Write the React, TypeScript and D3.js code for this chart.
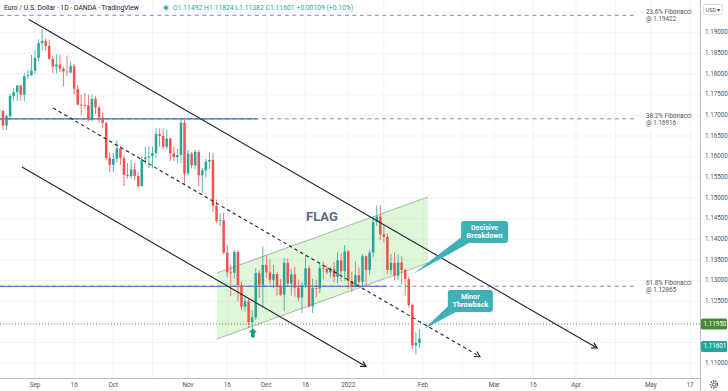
import React from 'react';
import * as d3 from 'd3';

// EUR/USD daily bars, OANDA, one per weekday starting Mon 16 Aug 2021
const opens = [
  1.1797, 1.1777, 1.1712, 1.1711, 1.1675, 1.1698, 1.1747, 1.1756, 1.1772, 1.1750,
  1.1795, 1.1797, 1.1808, 1.1839, 1.1875, 1.1880, 1.1868, 1.1837, 1.1818, 1.1823,
  1.1813, 1.1806, 1.1804, 1.1819, 1.1764, 1.1726, 1.1725, 1.1724, 1.1690, 1.1740,
  1.1719, 1.1695, 1.1682, 1.1597, 1.1580, 1.1595, 1.1620, 1.1597, 1.1556, 1.1553,
  1.1569, 1.1553, 1.1529, 1.1594, 1.1598, 1.1601, 1.1609, 1.1655, 1.1650, 1.1624,
  1.1644, 1.1608, 1.1599, 1.1604, 1.1682, 1.1559, 1.1607, 1.1579, 1.1611, 1.1555,
  1.1567, 1.1588, 1.1592, 1.1481, 1.1444, 1.1446, 1.1368, 1.1320, 1.1319, 1.1369,
  1.1289, 1.1237, 1.1250, 1.1200, 1.1211, 1.1318, 1.1290, 1.1338, 1.1320, 1.1302,
  1.1316, 1.1285, 1.1266, 1.1343, 1.1293, 1.1315, 1.1283, 1.1259, 1.1289, 1.1330,
  1.1238, 1.1282, 1.1281, 1.1331, 1.1329, 1.1320, 1.1328, 1.1309, 1.1349, 1.1323,
  1.1371, 1.1299, 1.1285, 1.1313, 1.1297, 1.1359, 1.1326, 1.1368, 1.1442, 1.1455,
  1.1412, 1.1406, 1.1326, 1.1343, 1.1312, 1.1344, 1.1326, 1.1304, 1.1241, 1.1143,
  1.11492,
];
const highs = [
  1.1803, 1.1781, 1.1727, 1.1712, 1.1702, 1.1752, 1.1766, 1.1773, 1.1775, 1.1802,
  1.1810, 1.1846, 1.1857, 1.1884, 1.1909, 1.1886, 1.1883, 1.1845, 1.1848, 1.1846,
  1.1818, 1.1845, 1.1831, 1.1824, 1.1773, 1.1750, 1.1754, 1.1750, 1.1750, 1.1746,
  1.1723, 1.1706, 1.1684, 1.1610, 1.1609, 1.1640, 1.1625, 1.1604, 1.1584, 1.1592,
  1.1585, 1.1563, 1.1600, 1.1624, 1.1624, 1.1624, 1.1669, 1.1668, 1.1668, 1.1665,
  1.1645, 1.1624, 1.1619, 1.1692, 1.1692, 1.1616, 1.1611, 1.1616, 1.1617, 1.1572,
  1.1595, 1.1610, 1.1609, 1.1496, 1.1464, 1.1465, 1.1386, 1.1339, 1.1374, 1.1374,
  1.1298, 1.1263, 1.1257, 1.1228, 1.1330, 1.1325, 1.1383, 1.1361, 1.1352, 1.1338,
  1.1321, 1.1304, 1.1355, 1.1354, 1.1329, 1.1333, 1.1303, 1.1297, 1.1361, 1.1337,
  1.1304, 1.1302, 1.1341, 1.1346, 1.1337, 1.1334, 1.1345, 1.1369, 1.1366, 1.1386,
  1.1375, 1.1322, 1.1346, 1.1332, 1.1364, 1.1361, 1.1375, 1.1455, 1.1482, 1.1483,
  1.1434, 1.1415, 1.1364, 1.1369, 1.1364, 1.1359, 1.1330, 1.1310, 1.1245, 1.1175,
  1.11824,
];
const lows = [
  1.1762, 1.1708, 1.1696, 1.1665, 1.1664, 1.1689, 1.1734, 1.1735, 1.1735, 1.1734,
  1.1788, 1.1795, 1.1800, 1.1831, 1.1857, 1.1856, 1.1833, 1.1802, 1.1801, 1.1805,
  1.1770, 1.1795, 1.1801, 1.1751, 1.1724, 1.1700, 1.1716, 1.1685, 1.1685, 1.1703,
  1.1681, 1.1670, 1.1592, 1.1563, 1.1563, 1.1586, 1.1580, 1.1529, 1.1547, 1.1547,
  1.1543, 1.1524, 1.1527, 1.1583, 1.1572, 1.1572, 1.1598, 1.1625, 1.1619, 1.1618,
  1.1590, 1.1589, 1.1585, 1.1584, 1.1535, 1.1555, 1.1571, 1.1569, 1.1529, 1.1513,
  1.1551, 1.1570, 1.1466, 1.1440, 1.1432, 1.1364, 1.1309, 1.1263, 1.1305, 1.1250,
  1.1228, 1.1226, 1.1186, 1.1185, 1.1205, 1.1258, 1.1235, 1.1306, 1.1292, 1.1282,
  1.1264, 1.1263, 1.1226, 1.1287, 1.1264, 1.1261, 1.1251, 1.1222, 1.1283, 1.1235,
  1.1222, 1.1259, 1.1270, 1.1303, 1.1315, 1.1308, 1.1297, 1.1294, 1.1298, 1.1300,
  1.1280, 1.1272, 1.1283, 1.1285, 1.1286, 1.1285, 1.1315, 1.1357, 1.1433, 1.1398,
  1.1393, 1.1316, 1.1315, 1.1300, 1.1301, 1.1291, 1.1264, 1.1235, 1.1135, 1.1121,
  1.11382,
];
const closes = [
  1.1777, 1.1712, 1.1711, 1.1675, 1.1698, 1.1747, 1.1756, 1.1772, 1.1750, 1.1795,
  1.1797, 1.1808, 1.1839, 1.1875, 1.1880, 1.1868, 1.1837, 1.1818, 1.1823, 1.1813,
  1.1806, 1.1804, 1.1819, 1.1764, 1.1726, 1.1725, 1.1724, 1.1690, 1.1740, 1.1719,
  1.1695, 1.1682, 1.1597, 1.1580, 1.1595, 1.1620, 1.1597, 1.1556, 1.1553, 1.1569,
  1.1553, 1.1529, 1.1594, 1.1598, 1.1601, 1.1609, 1.1655, 1.1650, 1.1624, 1.1644,
  1.1608, 1.1599, 1.1604, 1.1682, 1.1559, 1.1607, 1.1579, 1.1611, 1.1555, 1.1567,
  1.1588, 1.1592, 1.1481, 1.1444, 1.1446, 1.1368, 1.1320, 1.1319, 1.1369, 1.1289,
  1.1237, 1.1250, 1.1200, 1.1211, 1.1318, 1.1290, 1.1338, 1.1320, 1.1302, 1.1316,
  1.1285, 1.1266, 1.1343, 1.1293, 1.1315, 1.1283, 1.1259, 1.1289, 1.1330, 1.1238,
  1.1282, 1.1281, 1.1331, 1.1329, 1.1320, 1.1328, 1.1309, 1.1349, 1.1323, 1.1371,
  1.1299, 1.1285, 1.1313, 1.1297, 1.1359, 1.1326, 1.1368, 1.1442, 1.1455, 1.1412,
  1.1406, 1.1326, 1.1343, 1.1312, 1.1344, 1.1326, 1.1304, 1.1241, 1.1143, 1.11492,
  1.11601,
];

const priceTicks = [1.11, 1.115, 1.12, 1.125, 1.13, 1.135, 1.14, 1.145, 1.15, 1.155, 1.16, 1.165, 1.17, 1.175, 1.18, 1.185, 1.19];
const gridPrices = [...priceTicks, 1.195];

const timeTicks: [string, string][] = [
  ['2021-09-01', 'Sep'], ['2021-09-16', '16'], ['2021-10-01', 'Oct'], ['2021-10-18', ''],
  ['2021-11-01', 'Nov'], ['2021-11-16', '16'], ['2021-12-01', 'Dec'], ['2021-12-16', '16'],
  ['2022-01-03', '2022'], ['2022-01-17', ''], ['2022-02-01', 'Feb'], ['2022-02-16', ''],
  ['2022-03-01', 'Mar'], ['2022-03-16', '16'], ['2022-04-01', 'Apr'], ['2022-04-18', ''],
  ['2022-05-02', 'May'], ['2022-05-17', '17'],
];

// fibonacci levels (retracement drawn off-chart)
const fibLevels = [
  { name: '23.6% Fibonacci', price: 1.19422 },
  { name: '38.2% Fibonacci', price: 1.16916 },
  { name: '61.8% Fibonacci', price: 1.12865 },
];
const fibSpan = [0, 181]; // bar index range
// horizontal support/resistance rays: [price, lastBar]
const hLines: [number, number][] = [[1.16916, 74.4], [1.12865, 110.9]];
const keyLevel = 1.1195;

// drawing anchors: [barIndex, price]
const upperChannel: [number, number][] = [[10.3, 1.19319], [169.9, 1.1137]];
const lowerChannel: [number, number][] = [[8.35, 1.1575], [105.0, 1.10922]];
const midChannel: [number, number][] = [[17.06, 1.17178], [137.0, 1.1116]];
const flagUpper: [number, number][] = [[63.1, 1.13185], [122.4, 1.15024]];
const flagLower: [number, number][] = [[63.1, 1.11588], [122.4, 1.13427]];
const flagLabel: [number, number] = [92.6, 1.1452];
const arrowAt: [number, number] = [73.2, 1.11854];

const callouts = [
  { lines: ['Decisive', 'Breakdown'], box: [138.3, 1.14177] as [number, number], tip: [118.2, 1.13161] as [number, number], w: 47 },
  { lines: ['Minor', 'Throwback'], box: [134.3, 1.12507] as [number, number], tip: [121.3, 1.1183] as [number, number], w: 45 },
];

const W = 728;
const H = 391;
const plotR = 700;
const plotB = 378;
const green = '#26a69a';
const red = '#ef5350';
const font = "Roboto, 'Liberation Sans', Arial, sans-serif";

const start = new Date(2021, 7, 16);
const weekdays: number[] = [];
for (let d = new Date(start); weekdays.length < 240; d.setDate(d.getDate() + 1)) {
  if (d.getDay() !== 0 && d.getDay() !== 6) weekdays.push(d.getTime());
}
function barOf(s: string) {
  const [yy, mm, dd] = s.split('-').map(Number);
  return weekdays.indexOf(new Date(yy, mm - 1, dd).getTime());
}

function arrowHead(x1: number, y1: number, x2: number, y2: number, len = 6) {
  const a = Math.atan2(y2 - y1, x2 - x1);
  const p1 = [x2 - len * Math.cos(a - 0.5), y2 - len * Math.sin(a - 0.5)];
  const p2 = [x2 - len * Math.cos(a + 0.5), y2 - len * Math.sin(a + 0.5)];
  return `M${p1[0]},${p1[1]}L${x2},${y2}L${p2[0]},${p2[1]}`;
}

export default function App() {
  const x = d3.scaleLinear().domain([12, 121]).range([35, 423]);
  const y = d3.scaleLinear().domain([1.11, 1.19]).range([363.3, 32.7]);
  const bw = 2.5;

  const pt = (p: [number, number]) => [x(p[0]), y(p[1])];
  const line = d3.line<[number, number]>().x(d => x(d[0])).y(d => y(d[1]));

  const chLine = (pts: [number, number][], dashed = false) => {
    const [a, b] = pts.map(pt);
    return (
      <g>
        <path d={line(pts) || ''} stroke="#1e222d" strokeWidth={1.1} fill="none" strokeDasharray={dashed ? '3.5,3' : undefined} />
        <path d={arrowHead(a[0], a[1], b[0], b[1])} stroke="#1e222d" strokeWidth={1.1} fill="none" />
      </g>
    );
  };

  const flagPoly = [...flagUpper, ...[...flagLower].reverse()];
  const last = closes.length - 1;
  const lastY = y(closes[last]) + 8; // nudged below the key level tag, as on the chart
  const tagYs = [y(keyLevel), lastY];
  const [ax, ay] = pt(arrowAt);

  return (
    <svg width={W} height={H} style={{ position: 'absolute', left: 0, top: 0, background: '#fff' }} fontFamily={font}>
      <defs>
        <clipPath id="plot"><rect x={0} y={0} width={plotR} height={plotB} /></clipPath>
      </defs>
      <rect width={W} height={H} fill="#fff" />

      <g clipPath="url(#plot)">
        {/* grid */}
        {gridPrices.map(p => (
          <line key={p} x1={0} x2={plotR} y1={y(p)} y2={y(p)} stroke="#f0f3fa" strokeWidth={1} />
        ))}
        {timeTicks.map(([d]) => (
          <line key={d} x1={x(barOf(d))} x2={x(barOf(d))} y1={0} y2={plotB} stroke="#f0f3fa" strokeWidth={1} />
        ))}

        {/* flag channel */}
        <path d={(line(flagPoly) || '') + 'Z'} fill="rgba(150, 225, 130, 0.3)" stroke="none" />
        <path d={line(flagUpper) || ''} stroke="#9ab39a" strokeWidth={0.9} fill="none" />
        <path d={line(flagLower) || ''} stroke="#9ab39a" strokeWidth={0.9} fill="none" />

        {/* fib levels */}
        {fibLevels.map(f => (
          <line key={f.name} x1={x(fibSpan[0])} x2={x(fibSpan[1])} y1={y(f.price)} y2={y(f.price)}
            stroke="#7a84cc" strokeWidth={1} strokeDasharray="4,3.5" />
        ))}
        {hLines.map(([p, end]) => (
          <line key={p} x1={0} x2={x(end)} y1={y(p)} y2={y(p)} stroke="#4068c8" strokeWidth={1.2} />
        ))}
        <line x1={0} x2={plotR} y1={y(keyLevel)} y2={y(keyLevel)} stroke="#555" strokeWidth={0.8} strokeDasharray="1,2" />

        {/* candles */}
        {opens.map((o, i) => {
          const c = closes[i];
          const col = c >= o ? green : red;
          const top = y(Math.max(o, c));
          const bot = y(Math.min(o, c));
          return (
            <g key={i}>
              <line x1={x(i)} x2={x(i)} y1={y(highs[i])} y2={y(lows[i])} stroke={col} strokeWidth={0.8} />
              <rect x={x(i) - bw / 2} y={top} width={bw} height={Math.max(bot - top, 0.8)} fill={col} />
            </g>
          );
        })}

        {/* channel lines */}
        {chLine(upperChannel)}
        {chLine(lowerChannel)}
        {chLine(midChannel, true)}

        {/* FLAG label */}
        <text x={x(flagLabel[0])} y={y(flagLabel[1])} textAnchor="middle" dominantBaseline="middle"
          fontSize={13} fontWeight="bold" fill="#5f6b7b">FLAG</text>

        {/* up arrow */}
        <path d={`M${ax},${ay} l4,4.5 h-2.2 v5 h-3.6 v-5 h-2.2 Z`} fill="#1b9a80" />

        {/* callouts */}
        {callouts.map(c => {
          const [cx, cy] = pt(c.box);
          const [tx, ty] = pt(c.tip);
          const h = 22;
          const x0 = cx - c.w / 2;
          const y0 = cy - h / 2;
          return (
            <g key={c.lines[0]}>
              <path d={`M${tx},${ty}L${x0 + 0.5},${y0 + h - 6}L${x0 + 8},${y0 + h}Z`} fill="#3eb1b6" />
              <rect x={x0} y={y0} width={c.w} height={h} rx={3} fill="#3eb1b6" />
              {c.lines.map((t, j) => (
                <text key={t} x={cx} y={y0 + 9.2 + j * 7.6} textAnchor="middle" fontSize={7.2} fontWeight="bold" fill="#fff">{t}</text>
              ))}
            </g>
          );
        })}

        {/* fib labels */}
        {fibLevels.map(f => (
          <g key={f.name} fontSize={6.3} fill="#50535e">
            <text x={646} y={y(f.price) - 1.3}>{f.name}</text>
            <text x={646} y={y(f.price) + 5.7}>@ {f.price.toFixed(5)}</text>
          </g>
        ))}
      </g>

      {/* header */}
      <text x={4} y={10} fontSize={6.8} fill="#131722">Euro / U.S. Dollar · 1D · OANDA · TradingView</text>
      <circle cx={166} cy={7.8} r={3.2} fill="rgba(38,166,154,0.25)" />
      <circle cx={166} cy={7.8} r={1.8} fill={green} />
      <text x={173} y={10} fontSize={6.8} fill={green}>
        O{opens[last].toFixed(5)} H{highs[last].toFixed(5)} L{lows[last].toFixed(5)} C{closes[last].toFixed(5)} +{(closes[last] - closes[last - 1]).toFixed(5)} (+0.10%)
      </text>

      {/* axes */}
      <line x1={plotR + 0.5} x2={plotR + 0.5} y1={0} y2={H} stroke="#b8bbc4" strokeWidth={1} />
      <line x1={0} x2={plotR} y1={plotB + 0.5} y2={plotB + 0.5} stroke="#b8bbc4" strokeWidth={1} />
      {priceTicks.filter(p => tagYs.every(t => Math.abs(y(p) - t) > 7)).map(p => (
        <text key={p} x={705} y={y(p)} dominantBaseline="middle" fontSize={6.3} fill="#50535e">{p.toFixed(5)}</text>
      ))}
      {timeTicks.filter(t => t[1]).map(([d, l]) => (
        <text key={d} x={x(barOf(d))} y={387} textAnchor="middle" fontSize={6.3} fill="#50535e">{l}</text>
      ))}

      {/* price tags */}
      <rect x={plotR + 1} y={y(keyLevel) - 5.5} width={26} height={11} rx={1.5} fill="#4a8a36" />
      <text x={703.5} y={y(keyLevel)} dominantBaseline="middle" fontSize={6.3} fill="#fff">{keyLevel.toFixed(5)}</text>
      <rect x={plotR + 1} y={lastY - 5.5} width={26} height={11} rx={1.5} fill={green} />
      <text x={703.5} y={lastY} dominantBaseline="middle" fontSize={6.3} fill="#fff">{closes[last].toFixed(5)}</text>

      {/* USD box + settings */}
      <rect x={703.5} y={4.5} width={19} height={10} rx={2} fill="#fff" stroke="#d1d4dc" strokeWidth={0.8} />
      <text x={713} y={10.3} textAnchor="middle" dominantBaseline="middle" fontSize={5.5} fill="#50535e">USD ▾</text>
      <circle cx={714} cy={384.5} r={3.4} fill="none" stroke="#50535e" strokeWidth={1.6} strokeDasharray="1.3,1.1" />
      <circle cx={714} cy={384.5} r={1.6} fill="none" stroke="#50535e" strokeWidth={0.9} />
    </svg>
  );
}
